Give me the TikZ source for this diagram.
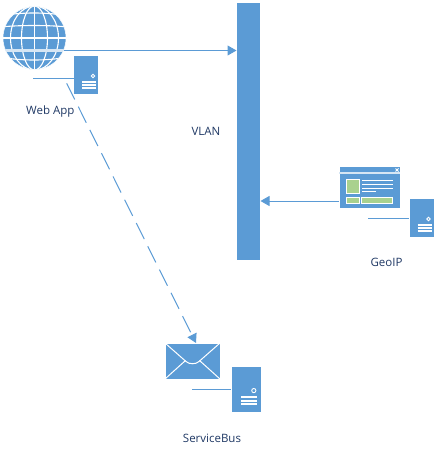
\documentclass[tikz,border=0pt]{standalone}
\usepackage{fontspec}
\setmainfont{Open Sans}
\usetikzlibrary{arrows.meta}

\definecolor{boxblue}{HTML}{5B9BD5}
\definecolor{leafgreen}{HTML}{A9D18E}
\definecolor{labelblue}{HTML}{1F3864}

\tikzset{
    block/.style={fill=boxblue, draw=white, line width=0.5pt, inner sep=0pt, outer sep=0pt},
    link/.style={draw=boxblue, line width=1pt, -{Triangle[length=9pt,width=10pt]}},
    dashlink/.style={link, dash pattern=on 18pt off 8pt, dash phase=20pt},
    stub/.style={draw=boxblue, line width=1pt},
    caption/.style={text=labelblue, font=\fontsize{11.5}{13}\selectfont, inner sep=0pt},
    strip/.style={draw=white, line width=0.9pt},
    thinstrip/.style={draw=white!75!boxblue, line width=1.2pt},
    greenbox/.style={fill=leafgreen, draw=white, line width=0.8pt},
    server/.pic={
        \draw[strip, line width=0.9pt] (19.5,21) circle (1.8);
        \foreach \y in {26.7,29.6,32.8}
            \draw[strip, line width=1.9pt] (8.5,\y) -- (22.5,\y);
    }
}

\begin{document}
\begin{tikzpicture}[x=1pt, y=-1pt]

    % Frame of the picture
    \useasboundingbox (0,0) rectangle (437,455);

    % VLAN bar
    \node[block, minimum width=24pt, minimum height=258pt] (vlan) at (248.5,131.5) {};
    \node[caption] (vlanlabel) at (206,131) {VLAN};

    % Globe
    \node[block, circle, minimum size=63pt] (globe) at (34.5,38) {};
    \begin{scope}
        \clip (globe.center) circle (31.5);
        \foreach \w in {13,24}
            \draw[strip, line width=1.1pt] (34.5,38) ellipse (\w pt and 32pt);
        \draw[strip, line width=1.1pt] (34.5,5) -- (34.5,71);
        \foreach \y/\b in {14/2,26/1,38/0,59/-2}
            \draw[strip, line width=1.1pt] (0,\y+\b) .. controls (20,\y-\b) and (48,\y-\b) .. (68,\y+\b);
        \draw[thinstrip, line width=2.4pt] (0,50.5) -- (68,50.5);
    \end{scope}

    % Web App server
    \node[block, minimum width=25pt, minimum height=39pt] (webserver) at (86,74.5) {};
    \pic at (73.5,55) {server};
    \coordinate (webstub) at (33,78);
    \draw[stub] (webstub) -- (webserver.west |- webstub);
    \node[caption] (weblabel) at (50.3,112) {Web App};

    % GeoIP window
    \node[block, minimum width=61pt, minimum height=42pt] (window) at (369.5,187) {};
    \draw[thinstrip] (window.west |- 0,173) -- (window.east |- 0,173);
    \draw[strip, line width=0.8pt] (395.5,168.5) -- (398.5,171.5) (395.5,171.5) -- (398.5,168.5);
    \draw[greenbox] (346,179) rectangle (359,193);
    \draw[greenbox] (346,197) rectangle (359,203);
    \draw[greenbox] (361,197) rectangle (392,203);
    \foreach \y/\e in {180/393,184/393,188/393,191.5/376}
        \draw[strip, line width=0.9pt] (362,\y) -- (\e,\y);

    % GeoIP server
    \node[block, minimum width=25pt, minimum height=39pt] (geoserver) at (421.5,217.5) {};
    \pic at (409,198) {server};
    \coordinate (geostub) at (368,218);
    \draw[stub] (geostub) -- (geoserver.west |- geostub);
    \node[caption] (geolabel) at (386.5,262) {GeoIP};

    % Mail
    \node[block, minimum width=55pt, minimum height=36pt] (mail) at (192.5,361) {};
    \draw[strip, line width=1pt] (mail.north west) -- (186,361.5) .. controls (189,364.5) and (196,364.5) .. (199,361.5) -- (mail.north east);
    \draw[strip, line width=1pt] (mail.south west) -- (185.5,360.5);
    \draw[strip, line width=1pt] (mail.south east) -- (199.5,360.5);

    % ServiceBus server
    \node[block, minimum width=30pt, minimum height=46pt] (busserver) at (246,389) {};
    \pic[scale=1.17] at (231,366) {server};
    \coordinate (busstub) at (192,389);
    \draw[stub] (busstub) -- (busserver.west |- busstub);
    \node[caption] (buslabel) at (212,438) {ServiceBus};

    % Connectors
    \coordinate (globeout) at (64,50.5);
    \coordinate (windowout) at (339,201);
    \coordinate (dashstart) at (64,78);
    \coordinate (dashend) at (196,343);
    \draw[link] (globeout) -- (vlan.west |- globeout);
    \draw[link] (windowout) -- (vlan.east |- windowout);
    \draw[dashlink] (dashstart) -- (dashend);

\end{tikzpicture}
\end{document}
